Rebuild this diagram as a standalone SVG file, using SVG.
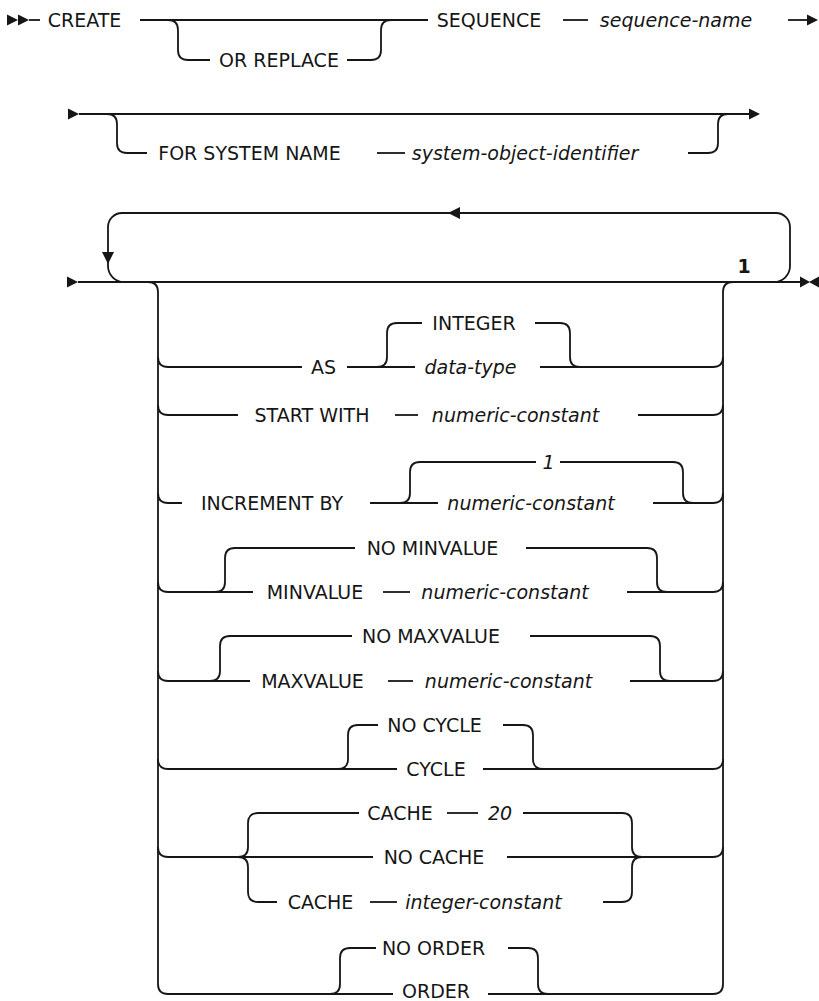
<svg xmlns="http://www.w3.org/2000/svg" width="819" height="1001" viewBox="0 0 819 1001">
<style>
.ln{fill:none;stroke:#161616;stroke-width:1.8}
.ah{fill:#161616;stroke:none}
text{font-family:"DejaVu Sans","Liberation Sans",sans-serif;font-size:19px;fill:#161616;text-anchor:middle}
.v{font-style:italic}
.fn{font-weight:bold;font-size:19px}
</style>
<defs>
<path id="tri" d="M0,-5.5 L11,0 L0,5.5 Z"/>
</defs>
<rect width="819" height="1001" fill="#fff"/>
<g id="connectors">
<!-- row 1 -->
<use href="#tri" class="ah" x="7" y="20"/>
<use href="#tri" class="ah" x="18" y="20"/>
<path class="ln" d="M29,20 H40"/>
<path class="ln" d="M140,20 H428"/>
<path class="ln" d="M168,20 Q178,20 178,30 V50 Q178,60 188,60 H210"/>
<path class="ln" d="M347,60 H371 Q381,60 381,50 V30 Q381,20 391,20"/>
<path class="ln" d="M563,20 H588"/>
<path class="ln" d="M788,20 H808"/>
<use href="#tri" class="ah" x="807" y="20"/>
<!-- row 2 -->
<use href="#tri" class="ah" x="68" y="114"/>
<path class="ln" d="M79,114 H750"/>
<use href="#tri" class="ah" x="749" y="114"/>
<path class="ln" d="M107,114 Q117,114 117,124 V143 Q117,153 127,153 H147"/>
<path class="ln" d="M377,153 H405"/>
<path class="ln" d="M688,153 H708 Q718,153 718,143 V124 Q718,114 728,114"/>
<!-- row 3 -->
<use href="#tri" class="ah" x="67" y="282"/>
<path class="ln" d="M78,282 H802"/>
<path class="ln" d="M774,282 A16,16 0 0 0 790,266 V227 A14,14 0 0 0 776,213 H122 A14,14 0 0 0 108,227 V266 A16,16 0 0 0 124,282"/>
<polygon class="ah" points="102,252 114,252 108,264"/>
<polygon class="ah" points="460,207 460,219 448,213"/>
<polygon class="ah" points="800,276.5 800,287.5 810,282"/>
<polygon class="ah" points="819,276.5 819,287.5 809,282"/>
<!-- stack sides -->
<path class="ln" d="M148,282 Q158,282 158,292 V984 Q158,994 168,994 H393"/>
<path class="ln" d="M733,282 Q723,282 723,292 V984 Q723,994 713,994 H488"/>
<!-- AS -->
<path class="ln" d="M158,357 Q158,367 168,367 H302"/>
<path class="ln" d="M347,367 H415"/>
<path class="ln" d="M377,367 Q387,367 387,357 V333 Q387,323 397,323 H422"/>
<path class="ln" d="M535,323 H560 Q570,323 570,333 V357 Q570,367 580,367"/>
<path class="ln" d="M540,367 H713 Q723,367 723,357"/>
<!-- START WITH -->
<path class="ln" d="M158,405 Q158,415 168,415 H238"/>
<path class="ln" d="M395,415 H418"/>
<path class="ln" d="M638,415 H713 Q723,415 723,405"/>
<!-- INCREMENT BY -->
<path class="ln" d="M158,493 Q158,503 168,503 H182"/>
<path class="ln" d="M370,503 H438"/>
<path class="ln" d="M400,503 Q410,503 410,493 V472 Q410,462 420,462 H536"/>
<path class="ln" d="M560,462 H673 Q683,462 683,472 V493 Q683,503 693,503"/>
<path class="ln" d="M653,503 H713 Q723,503 723,493"/>
<!-- MINVALUE -->
<path class="ln" d="M158,582 Q158,592 168,592 H253"/>
<path class="ln" d="M215,592 Q225,592 225,582 V558 Q225,548 235,548 H355"/>
<path class="ln" d="M526,548 H647 Q657,548 657,558 V582 Q657,592 667,592"/>
<path class="ln" d="M383,592 H410"/>
<path class="ln" d="M627,592 H713 Q723,592 723,582"/>
<!-- MAXVALUE -->
<path class="ln" d="M158,671 Q158,681 168,681 H250"/>
<path class="ln" d="M210,681 Q220,681 220,671 V646 Q220,636 230,636 H352"/>
<path class="ln" d="M530,636 H650 Q660,636 660,646 V671 Q660,681 670,681"/>
<path class="ln" d="M388,681 H413"/>
<path class="ln" d="M630,681 H713 Q723,681 723,671"/>
<!-- CYCLE -->
<path class="ln" d="M158,759 Q158,769 168,769 H397"/>
<path class="ln" d="M338,769 Q348,769 348,759 V735 Q348,725 358,725 H378"/>
<path class="ln" d="M503,725 H523 Q533,725 533,735 V759 Q533,769 543,769"/>
<path class="ln" d="M483,769 H713 Q723,769 723,759"/>
<!-- CACHE -->
<path class="ln" d="M158,847 Q158,857 168,857 H373"/>
<path class="ln" d="M238,857 Q248,857 248,847 V823 Q248,813 258,813 H359"/>
<path class="ln" d="M238,857 Q248,857 248,867 V892 Q248,902 258,902 H277"/>
<path class="ln" d="M447,813 H478"/>
<path class="ln" d="M523,813 H622 Q632,813 632,823 V847 Q632,857 642,857"/>
<path class="ln" d="M507,857 H713 Q723,857 723,847"/>
<path class="ln" d="M370,902 H397"/>
<path class="ln" d="M603,902 H622 Q632,902 632,892 V867 Q632,857 642,857"/>
<!-- ORDER -->
<path class="ln" d="M330,994 Q340,994 340,984 V958 Q340,948 350,948 H376"/>
<path class="ln" d="M508,948 H528 Q538,948 538,958 V984 Q538,994 548,994"/>
</g>
<g id="n-create"><text x="84.5" y="27">CREATE</text></g>
<g id="n-or-replace"><text x="279" y="67">OR REPLACE</text></g>
<g id="n-sequence"><text x="489" y="27">SEQUENCE</text></g>
<g id="n-sequence-name"><text class="v" x="676" y="27">sequence-name</text></g>
<g id="n-for-system-name"><text x="249.5" y="160">FOR SYSTEM NAME</text></g>
<g id="n-system-object-identifier"><text class="v" x="525" y="160">system-object-identifier</text></g>
<g id="n-footnote"><text class="fn" x="744" y="273">1</text></g>
<g id="n-as"><text x="323.5" y="374">AS</text></g>
<g id="n-integer"><text x="474" y="330">INTEGER</text></g>
<g id="n-data-type"><text class="v" x="470.5" y="374">data-type</text></g>
<g id="n-start-with"><text x="312" y="422">START WITH</text></g>
<g id="n-start-value"><text class="v" x="515.5" y="422">numeric-constant</text></g>
<g id="n-inc-default"><text class="v" x="548.5" y="469">1</text></g>
<g id="n-increment-by"><text x="272" y="510">INCREMENT BY</text></g>
<g id="n-inc-value"><text class="v" x="531" y="510">numeric-constant</text></g>
<g id="n-no-minvalue"><text x="432.5" y="555">NO MINVALUE</text></g>
<g id="n-minvalue"><text x="315" y="599">MINVALUE</text></g>
<g id="n-min-value"><text class="v" x="505" y="599">numeric-constant</text></g>
<g id="n-no-maxvalue"><text x="431" y="643">NO MAXVALUE</text></g>
<g id="n-maxvalue"><text x="312.5" y="688">MAXVALUE</text></g>
<g id="n-max-value"><text class="v" x="508.5" y="688">numeric-constant</text></g>
<g id="n-no-cycle"><text x="434.5" y="732">NO CYCLE</text></g>
<g id="n-cycle"><text x="436" y="776">CYCLE</text></g>
<g id="n-cache20"><text x="400" y="820">CACHE</text></g>
<g id="n-20"><text class="v" x="500" y="820">20</text></g>
<g id="n-no-cache"><text x="434" y="864">NO CACHE</text></g>
<g id="n-cache"><text x="320.5" y="909">CACHE</text></g>
<g id="n-integer-constant"><text class="v" x="483.5" y="909">integer-constant</text></g>
<g id="n-no-order"><text x="433.5" y="955">NO ORDER</text></g>
<g id="n-order"><text x="436" y="998">ORDER</text></g>
</svg>
